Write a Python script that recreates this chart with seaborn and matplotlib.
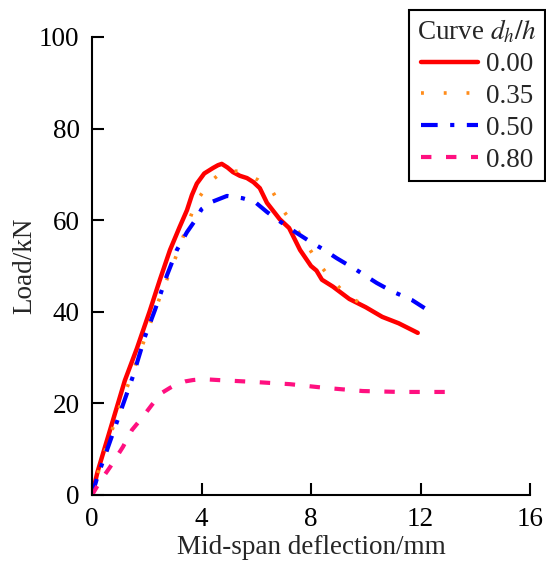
import matplotlib
matplotlib.use("Agg")
import matplotlib.pyplot as plt
import seaborn as sns
import pandas as pd

sns.set_theme(style="ticks")
plt.rcParams['font.family'] = ['Liberation Serif', 'DejaVu Serif']
plt.rcParams['mathtext.fontset'] = 'stix'

labels = ["0.00", "0.35", "0.50", "0.80"]
colors = ["#ff0000", "#ff8c1a", "#0000ff", "#ff1080"]

x_000 = [0, 0.2, 0.45, 0.8, 1.2, 1.64, 2.1, 2.48, 2.85, 3.2, 3.47, 3.65, 3.83, 4.1, 4.42, 4.6, 4.74, 4.95, 5.15, 5.4, 5.66, 5.9, 6.13, 6.39, 6.86, 7.2, 7.6, 8.0, 8.2, 8.4, 8.8, 9.4, 10.0, 10.6, 11.2, 11.6, 11.9]
y_000 = [0, 5, 10, 17, 25, 32, 40, 47, 53.5, 58.5, 62.2, 65.5, 68, 70.2, 71.4, 72.0, 72.3, 71.5, 70.5, 69.7, 69.2, 68.3, 67, 63.8, 60.2, 58.3, 53.5, 50, 49, 47, 45.5, 42.8, 41.0, 38.9, 37.5, 36.3, 35.4]

x_035 = [0, 0.2, 0.5, 1.0, 1.5, 2.04, 2.55, 3.0, 3.43, 3.69, 3.87, 4.3, 4.78, 5.4, 6.06, 6.6, 7.0, 7.45, 7.85, 8.3, 8.76, 9.34, 10.0, 10.1]
y_035 = [0, 4.5, 10, 19, 27, 36, 44.3, 51, 58, 62.2, 64.6, 68.3, 70.7, 70.7, 68.8, 66.2, 62, 58.3, 54.6, 50.4, 47, 43.4, 41.3, 41.0]

x_050 = [0, 0.2, 0.5, 1.0, 1.5, 1.93, 2.3, 2.74, 3.1, 3.47, 3.83, 4.0, 4.38, 4.93, 5.5, 5.95, 6.39, 6.8, 7.48, 8.0, 8.43, 8.94, 9.67, 10.4, 10.95, 11.68, 12.15]
y_050 = [0, 4, 9, 17.5, 26, 34.5, 40.4, 48, 53.5, 57.4, 60.5, 62.4, 64, 65.3, 64.8, 64, 61.8, 60, 57.2, 55.2, 53.7, 51.7, 49.1, 46.3, 44.5, 42.6, 40.8]

x_080 = [0, 0.3, 0.66, 1.13, 1.46, 1.82, 2.19, 2.55, 2.85, 3.1, 3.4, 3.69, 4.05, 4.6, 5.88, 7.23, 8.5, 9.89, 11.24, 13.1]
y_080 = [0, 3, 6.1, 10.5, 14.2, 16.8, 19.7, 22.3, 23.4, 24.2, 24.8, 25.1, 25.3, 25.1, 24.7, 24.2, 23.4, 22.7, 22.5, 22.5]

series = [(x_000, y_000), (x_035, y_035), (x_050, y_050), (x_080, y_080)]
styles = [dict(linestyle='-', linewidth=3.2),
          dict(linestyle=(0, (0.8, 5.5)), linewidth=2.6),
          dict(linestyle=(0, (4, 3, 1, 3)), linewidth=3.0),
          dict(linestyle=(0, (2.5, 3.5)), linewidth=3.0)]

fig = plt.figure(figsize=(5.46, 5.71), dpi=100)
ax = fig.add_axes([92/546, 1-495/571, 438/546, 458/571])

for lab, col, (xs, ys), st in zip(labels, colors, series, styles):
    df = pd.DataFrame({"x": xs, "y": ys})
    sns.lineplot(data=df, x="x", y="y", ax=ax, sort=False, color=col, label=lab,
                 solid_joinstyle='round', **st)

ax.set_xlim(0, 16)
ax.set_ylim(0, 100)
ax.set_xticks([0, 4, 8, 12, 16])
ax.set_yticks([0, 20, 40, 60, 80, 100])
ax.tick_params(direction='in', length=8.5, width=1.5, labelsize=19.5, colors='black')
ax.tick_params(axis='x', pad=9)
ax.tick_params(axis='y', pad=9)
for s in ['top', 'right']:
    ax.spines[s].set_visible(False)
for s in ['left', 'bottom']:
    ax.spines[s].set_linewidth(1.5)
    ax.spines[s].set_color('black')
ax.set_xlabel("Mid-span deflection/mm", fontsize=19.5, labelpad=2)
ax.set_ylabel("Load/kN", fontsize=19.5, labelpad=1)

leg = ax.legend(title="Curve $d_h/h$", loc='upper right', bbox_to_anchor=(0.999, 0.983),
                bbox_transform=fig.transFigure, fontsize=19.5, title_fontsize=19.5,
                frameon=True, fancybox=False, edgecolor='black', handlelength=2.1,
                handletextpad=0.3, borderpad=0.3, labelspacing=0.25, borderaxespad=0)
leg.get_frame().set_linewidth(1.5)
leg.get_frame().set_alpha(1)

fig.savefig("out.png", dpi=100)
